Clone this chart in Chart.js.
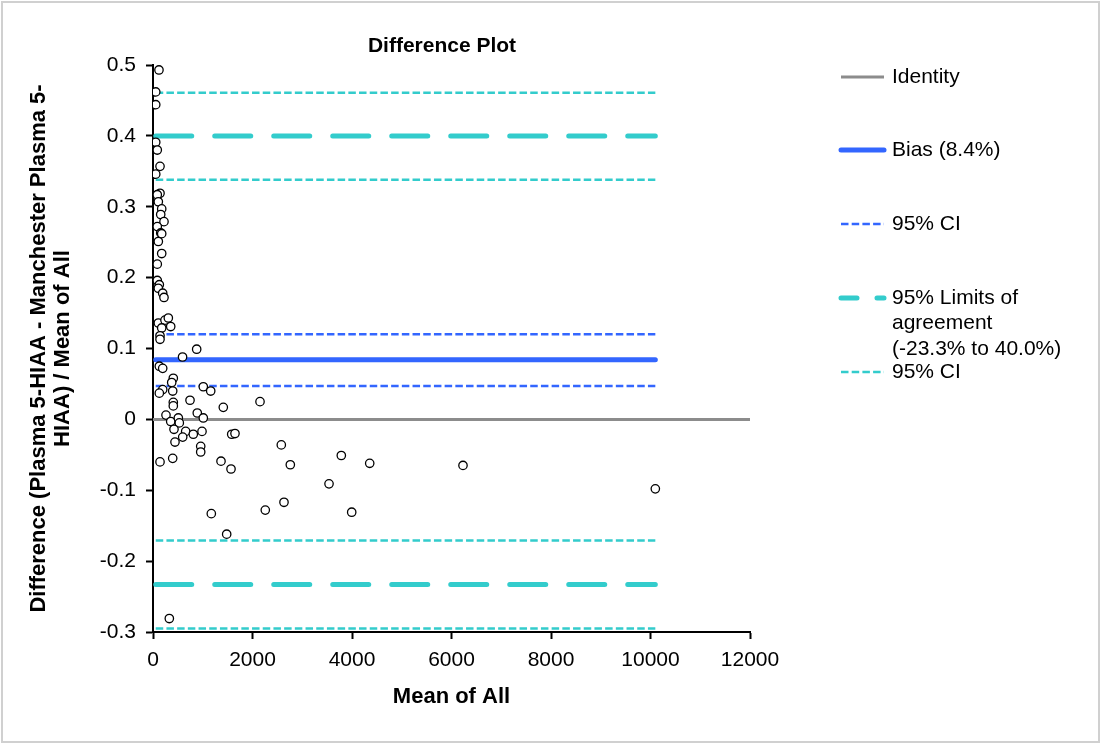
<!DOCTYPE html>
<html>
<head>
<meta charset="utf-8">
<script src="https://cdn.jsdelivr.net/npm/chart.js@4.4.1/dist/chart.umd.min.js"></script>
<style>
  html, body { margin: 0; padding: 0; background: #fff; }
  #wrap { width: 1101px; height: 744px; position: relative; }
</style>
</head>
<body>
<div id="wrap"><canvas id="myChart" width="1101" height="744"></canvas></div>
<script>
// mean of all (x) and relative difference (y)
const meanOfAll = [
  120, 55, 55, 55, 86, 141, 55, 141, 86, 107, 175, 155, 221, 86, 155, 175, 107, 175, 86, 86,
  127, 107, 195, 221, 107, 241, 308, 175, 356, 141, 141, 878, 594, 127, 195, 408, 376, 195, 127, 396,
  1011, 1160, 744, 408, 408, 1413, 2151, 261, 356, 509, 529, 890, 1011, 422, 657, 810, 985, 597, 442, 1582,
  1648, 959, 959, 141, 396, 1367, 1568, 2579, 2760, 3785, 4356, 3538, 1172, 2257, 2633, 3994, 1481, 328, 6231, 10097
];
const relDiff = [
  0.493, 0.462, 0.444, 0.391, 0.380, 0.357, 0.346, 0.319, 0.317, 0.307, 0.297, 0.289, 0.279, 0.272, 0.263, 0.262, 0.251, 0.234, 0.219, 0.196,
  0.190, 0.185, 0.178, 0.172, 0.136, 0.140, 0.143, 0.129, 0.131, 0.118, 0.113, 0.099, 0.088, 0.075, 0.072, 0.058, 0.052, 0.042, 0.037, 0.040,
  0.046, 0.040, 0.027, 0.024, 0.019, 0.017, 0.025, 0.006, -0.003, 0.002, -0.005, 0.009, 0.002, -0.014, -0.017, -0.021, -0.017, -0.025, -0.032, -0.021,
  -0.020, -0.038, -0.046, -0.060, -0.055, -0.059, -0.070, -0.036, -0.064, -0.051, -0.062, -0.091, -0.133, -0.128, -0.117, -0.131, -0.162, -0.281, -0.065, -0.098
];

const bias = 0.084;
const biasCI = [0.047, 0.120];
const limits = [-0.233, 0.400];
const upperLimitCI = [0.338, 0.461];
const lowerLimitCI = [-0.295, -0.171];

const xTicks = [0, 2000, 4000, 6000, 8000, 10000, 12000];
const yTicks = [-0.3, -0.2, -0.1, 0, 0.1, 0.2, 0.3, 0.4, 0.5];

const legendLabels = ['Identity', 'Bias (8.4%)', '95% CI', ['95% Limits of', 'agreement', '(-23.3% to 40.0%)'], '95% CI'];

const blue = '#3366ff';
const cyan = '#33cccc';
const grey = '#8c8c8c';
const fontFamily = '"Liberation Sans", Arial, sans-serif';

const xStart = Math.min(...meanOfAll);
const xEnd = Math.max(...meanOfAll);

function hline(v, x0, x1) {
  return [{ x: x0, y: v }, { x: x1, y: v }];
}

const ciDash = [7.5, 3.2];
const loaDash = [36, 23];

const datasets = [
  {
    type: 'scatter',
    label: 'points',
    data: meanOfAll.map((m, i) => ({ x: m, y: relDiff[i] })),
    pointRadius: 4.2,
    pointBorderWidth: 1.3,
    borderColor: '#000',
    backgroundColor: '#fff'
  },
  { type: 'line', label: legendLabels[0], data: hline(0, xTicks[0], xTicks[xTicks.length - 1]),
    borderColor: grey, borderWidth: 3, pointRadius: 0 },
  { type: 'line', label: legendLabels[1], data: hline(bias, xStart, xEnd),
    borderColor: blue, borderWidth: 5, pointRadius: 0, borderCapStyle: 'round' },
  { type: 'line', label: legendLabels[2], data: hline(biasCI[0], xStart, xEnd),
    borderColor: blue, borderWidth: 2.5, borderDash: ciDash, pointRadius: 0 },
  { type: 'line', label: legendLabels[2], data: hline(biasCI[1], xStart, xEnd),
    borderColor: blue, borderWidth: 2.5, borderDash: ciDash, pointRadius: 0 },
  { type: 'line', label: 'loa', data: hline(limits[0], xStart, xEnd),
    borderColor: cyan, borderWidth: 5, borderDash: loaDash, borderCapStyle: 'round', pointRadius: 0 },
  { type: 'line', label: 'loa', data: hline(limits[1], xStart, xEnd),
    borderColor: cyan, borderWidth: 5, borderDash: loaDash, borderCapStyle: 'round', pointRadius: 0 },
  { type: 'line', label: 'loaci', data: hline(upperLimitCI[0], xStart, xEnd),
    borderColor: cyan, borderWidth: 2.5, borderDash: ciDash, pointRadius: 0 },
  { type: 'line', label: 'loaci', data: hline(upperLimitCI[1], xStart, xEnd),
    borderColor: cyan, borderWidth: 2.5, borderDash: ciDash, pointRadius: 0 },
  { type: 'line', label: 'loaci', data: hline(lowerLimitCI[0], xStart, xEnd),
    borderColor: cyan, borderWidth: 2.5, borderDash: ciDash, pointRadius: 0 },
  { type: 'line', label: 'loaci', data: hline(lowerLimitCI[1], xStart, xEnd),
    borderColor: cyan, borderWidth: 2.5, borderDash: ciDash, pointRadius: 0 }
];

// frame, title and the side legend
const extras = {
  id: 'extras',
  beforeDraw(chart) {
    const ctx = chart.ctx;
    ctx.save();
    ctx.fillStyle = '#fff';
    ctx.fillRect(0, 0, chart.width, chart.height);
    ctx.strokeStyle = '#d0d0d0';
    ctx.lineWidth = 2;
    ctx.strokeRect(2, 2, chart.width - 4, chart.height - 4);
    ctx.restore();
  },
  afterDraw(chart) {
    const ctx = chart.ctx;
    ctx.save();
    ctx.fillStyle = '#000';
    ctx.textBaseline = 'middle';
    ctx.font = 'bold 21px ' + fontFamily;
    ctx.textAlign = 'center';
    ctx.fillText('Difference Plot', 442, 46);

    ctx.font = '21px ' + fontFamily;
    ctx.textAlign = 'left';
    const items = [
      { y: 77, ds: chart.data.datasets[1], text: legendLabels[0] },
      { y: 150, ds: chart.data.datasets[2], text: legendLabels[1] },
      { y: 224, ds: chart.data.datasets[3], text: legendLabels[2] },
      { y: 298, ds: chart.data.datasets[5], text: legendLabels[3], dash: [37, 20], offset: 21 },
      { y: 372, ds: chart.data.datasets[7], text: legendLabels[4] }
    ];
    items.forEach(it => {
      ctx.save();
      ctx.strokeStyle = it.ds.borderColor;
      ctx.lineWidth = it.ds.borderWidth;
      ctx.lineCap = it.ds.borderCapStyle || 'butt';
      ctx.setLineDash(it.dash || it.ds.borderDash || []);
      ctx.lineDashOffset = it.offset || 0;
      ctx.beginPath();
      ctx.moveTo(841, it.y);
      ctx.lineTo(884, it.y);
      ctx.stroke();
      ctx.restore();
      const lines = Array.isArray(it.text) ? it.text : [it.text];
      lines.forEach((t, k) => ctx.fillText(t, 892, it.y + k * 25.5));
    });
    ctx.restore();
  }
};

const config = {
  data: { datasets: datasets },
  options: {
    responsive: false,
    animation: false,
    layout: { padding: { left: 0, right: 351, top: 65, bottom: 0 } },
    plugins: {
      legend: { display: false },
      title: { display: false },
      tooltip: { enabled: false }
    },
    scales: {
      x: {
        type: 'linear',
        min: xTicks[0],
        max: xTicks[xTicks.length - 1],
        afterFit: s => { s.height = 112; },
        afterBuildTicks: s => { s.ticks = xTicks.map(v => ({ value: v })); },
        ticks: {
          color: '#000',
          font: { family: fontFamily, size: 21 },
          padding: 9,
          maxRotation: 0,
          callback: v => String(v)
        },
        grid: { drawOnChartArea: false, drawTicks: true, tickLength: 7, tickColor: '#000', tickWidth: 2 },
        border: { color: '#000', width: 2 },
        title: {
          display: true,
          text: 'Mean of All',
          color: '#000',
          font: { family: fontFamily, size: 22, weight: 'bold', lineHeight: 1.1 },
          padding: { top: 0, bottom: 35 }
        }
      },
      y: {
        type: 'linear',
        min: yTicks[0],
        max: yTicks[yTicks.length - 1],
        afterFit: s => { s.width = 153; },
        afterBuildTicks: s => { s.ticks = yTicks.map(v => ({ value: v })); },
        ticks: {
          color: '#000',
          font: { family: fontFamily, size: 21 },
          padding: 10,
          callback: v => String(Math.round(v * 10) / 10)
        },
        grid: { drawOnChartArea: false, drawTicks: true, tickLength: 7, tickColor: '#000', tickWidth: 2 },
        border: { color: '#000', width: 2 },
        title: {
          display: true,
          text: ['Difference (Plasma 5-HIAA - Manchester Plasma 5-', 'HIAA) / Mean of All'],
          color: '#000',
          font: { family: fontFamily, size: 22, weight: 'bold', lineHeight: 1.1 },
          padding: { top: 27, bottom: 0 }
        }
      }
    }
  },
  plugins: [extras]
};

const myChart = new Chart(document.getElementById('myChart'), config);
</script>
</body>
</html>
